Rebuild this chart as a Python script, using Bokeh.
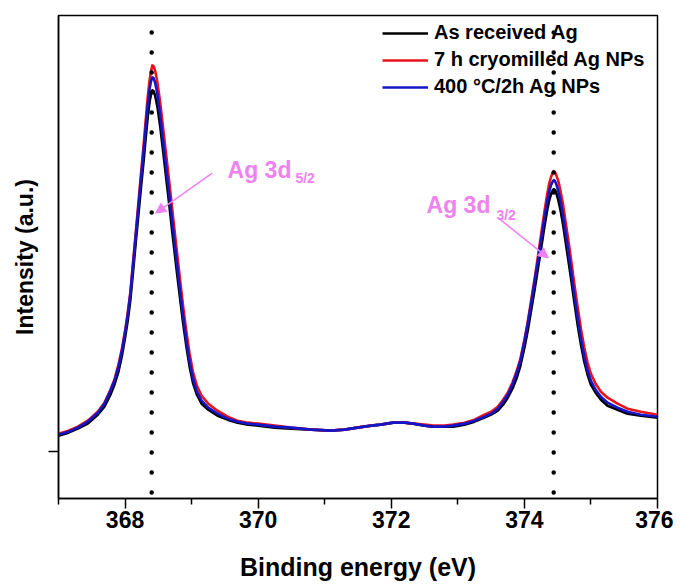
from bokeh.plotting import figure
from bokeh.models import Range1d, FixedTicker, Span, Arrow, NormalHead, Label, Legend, LegendItem
from bokeh.embed import file_html
from bokeh.resources import INLINE

# ---------------- data ----------------
energy = [367.00, 367.15, 367.29, 367.44, 367.59, 367.69, 367.78, 367.84, 367.90, 367.95,
          368.00, 368.04, 368.08, 368.12, 368.16, 368.20, 368.24, 368.28, 368.31, 368.34,
          368.37, 368.39, 368.41, 368.43, 368.45, 368.47, 368.49, 368.53, 368.57, 368.62,
          368.67, 368.72, 368.77, 368.82, 368.87, 368.92, 368.97, 369.02, 369.08, 369.15,
          369.25, 369.39, 369.54, 369.69, 369.85, 370.00, 370.25, 370.49, 370.80, 371.09,
          371.30, 371.49, 371.70, 371.84, 372.03, 372.20, 372.33, 372.50, 372.63, 372.80,
          372.93, 373.10, 373.25, 373.40, 373.50, 373.60, 373.68, 373.75, 373.82, 373.88,
          373.94, 374.00, 374.05, 374.10, 374.15, 374.20, 374.25, 374.30, 374.34, 374.37,
          374.40, 374.42, 374.44, 374.46, 374.48, 374.51, 374.54, 374.58, 374.62, 374.66,
          374.70, 374.75, 374.80, 374.85, 374.90, 374.95, 375.00, 375.07, 375.15, 375.25,
          375.40, 375.55, 375.75, 376.00]

as_received = [16, 19, 23, 28, 37, 45, 57, 67, 80, 95,
               114, 131, 152, 180, 209, 237, 265, 292, 314, 335,
               351, 358, 362, 361, 357, 351, 344, 325, 302, 273,
               244, 214, 185, 157, 130, 106, 85, 69, 57, 48,
               42, 36, 32, 29, 27, 26, 24, 23, 22, 21,
               22, 24, 26, 27, 29, 29, 28, 26, 25, 25,
               25, 27, 30, 34, 37, 41, 47, 54, 63, 73,
               86, 104, 121, 141, 161, 182, 203, 225, 241, 251,
               258, 261, 263, 262, 259, 252, 243, 228, 210, 192,
               174, 150, 127, 107, 90, 77, 67, 59, 52, 46,
               42, 38, 36, 34]

cryomilled = [18, 21, 25, 31, 40, 49, 62, 72, 87, 102,
              121, 139, 160, 190, 219, 249, 279, 308, 332, 355,
              373, 381, 387, 386, 382, 376, 368, 349, 325, 296,
              267, 236, 206, 176, 147, 121, 98, 80, 66, 56,
              48, 41, 35, 31, 29, 28, 26, 24, 22, 21,
              22, 24, 26, 27, 29, 29, 28, 27, 26, 26,
              27, 29, 32, 37, 40, 45, 52, 59, 69, 80,
              93, 112, 130, 151, 172, 194, 217, 240, 257, 268,
              275, 279, 281, 280, 277, 271, 262, 248, 230, 212,
              193, 168, 145, 123, 104, 89, 78, 68, 60, 54,
              48, 43, 40, 37]

annealed = [17, 20, 24, 30, 39, 48, 61, 71, 85, 100,
            119, 137, 158, 187, 216, 245, 274, 302, 325, 347,
            364, 371, 375, 374, 370, 364, 356, 336, 312, 283,
            254, 224, 194, 165, 137, 112, 90, 73, 60, 51,
            44, 38, 33, 30, 28, 27, 25, 24, 22, 21,
            22, 24, 26, 27, 29, 29, 28, 26, 25, 25,
            26, 28, 31, 35, 38, 43, 50, 57, 67, 78,
            91, 110, 128, 148, 169, 190, 212, 234, 250, 260,
            267, 270, 272, 271, 268, 261, 252, 237, 219, 201,
            182, 157, 134, 113, 95, 81, 71, 62, 55, 49,
            44, 40, 37, 35]

series_labels = ["As received Ag", "7 h cryomilled Ag NPs", "400 \u00b0C/2h Ag NPs"]
series_colors = ["#000000", "#e8141c", "#1414c8"]
peak_positions = [368.40, 374.44]
x_ticks = [368, 370, 372, 374, 376]
x_minor_ticks = [367, 369, 371, 373, 375]
peak_names = ["Ag 3d", "Ag 3d"]
peak_subs = ["5/2", "3/2"]

FONT = "Liberation Sans"
VIOLET = "#ee82ee"

p = figure(width=673, height=583, output_backend="svg", toolbar_location=None,
           x_range=Range1d(367, 376), y_range=Range1d(-47, 437),
           min_border_left=58, min_border_right=16, min_border_top=15, min_border_bottom=84)
p.background_fill_color = "white"
p.border_fill_color = "white"
p.grid.visible = False
p.outline_line_color = "black"
p.outline_line_width = 1.5

# curves
renderers = []
for ys, c in zip([as_received, cryomilled, annealed], series_colors):
    r = p.line(energy, ys, line_color=c, line_width=2.6, line_join="round")
    renderers.append(r)

# dotted reference lines at the peak positions
for xp in peak_positions:
    p.add_layout(Span(location=xp, dimension="height", line_color="black",
                      line_width=4.5, line_dash="0 20", line_cap="round",
                      line_dash_offset=3))

# axes
xa = p.xaxis[0]
xa.ticker = FixedTicker(ticks=x_ticks, minor_ticks=x_minor_ticks)
xa.axis_label = "Binding energy (eV)"
xa.axis_label_text_font = FONT
xa.axis_label_text_font_style = "bold"
xa.axis_label_text_font_size = "25px"
xa.axis_label_text_color = "black"
xa.axis_label_standoff = 22
xa.major_label_text_font = FONT
xa.major_label_text_font_style = "bold"
xa.major_label_text_font_size = "23px"
xa.major_label_text_color = "black"
xa.major_label_standoff = 2
xa.major_tick_out = 10
xa.major_tick_in = 0
xa.minor_tick_out = 6
xa.minor_tick_in = 0
xa.axis_line_width = 1.5
xa.axis_line_color = "black"
xa.major_tick_line_width = 1.5
xa.major_tick_line_color = "black"
xa.minor_tick_line_width = 1.5
xa.minor_tick_line_color = "black"

ya = p.yaxis[0]
ya.ticker = FixedTicker(ticks=[0], minor_ticks=[])
ya.major_label_overrides = {0: ""}
ya.major_label_text_font_size = "1px"
ya.axis_label = "Intensity (a.u.)"
ya.axis_label_text_font = FONT
ya.axis_label_text_font_style = "bold"
ya.axis_label_text_font_size = "23px"
ya.axis_label_text_color = "black"
ya.axis_label_standoff = 11
ya.major_tick_out = 10
ya.major_tick_in = 0
ya.axis_line_width = 1.5
ya.axis_line_color = "black"
ya.major_tick_line_width = 1.5
ya.major_tick_line_color = "black"

# peak annotations
label_pos = [(369.54, 282), (372.53, 247)]
sub_pos = [(370.56, 274), (373.58, 237)]
arrows = [((369.31, 279), (368.46, 239)), ((373.61, 234), (374.36, 194))]
for name, sub, lp, sp, (a0, a1) in zip(peak_names, peak_subs, label_pos, sub_pos, arrows):
    p.add_layout(Label(x=lp[0], y=lp[1], text=name, text_font=FONT, text_font_style="bold",
                       text_font_size="23px", text_color=VIOLET, text_baseline="alphabetic"))
    p.add_layout(Label(x=sp[0], y=sp[1], text=sub, text_font=FONT, text_font_style="bold",
                       text_font_size="14px", text_color=VIOLET, text_baseline="alphabetic"))
    p.add_layout(Arrow(x_start=a0[0], y_start=a0[1], x_end=a1[0], y_end=a1[1],
                       line_color=VIOLET, line_width=1.5,
                       end=NormalHead(size=10, fill_color=VIOLET, line_color=VIOLET)))

legend = Legend(items=[LegendItem(label=l, renderers=[r]) for l, r in zip(series_labels, renderers)],
                location=(319, 395), padding=5, spacing=4, margin=0,
                glyph_width=46, glyph_height=20, label_height=20, label_standoff=6,
                label_text_font=FONT, label_text_font_style="bold", label_text_font_size="20px",
                label_text_color="black",
                border_line_alpha=0, background_fill_alpha=0)
p.add_layout(legend)

open("out.html", "w").write(file_html(p, INLINE))
